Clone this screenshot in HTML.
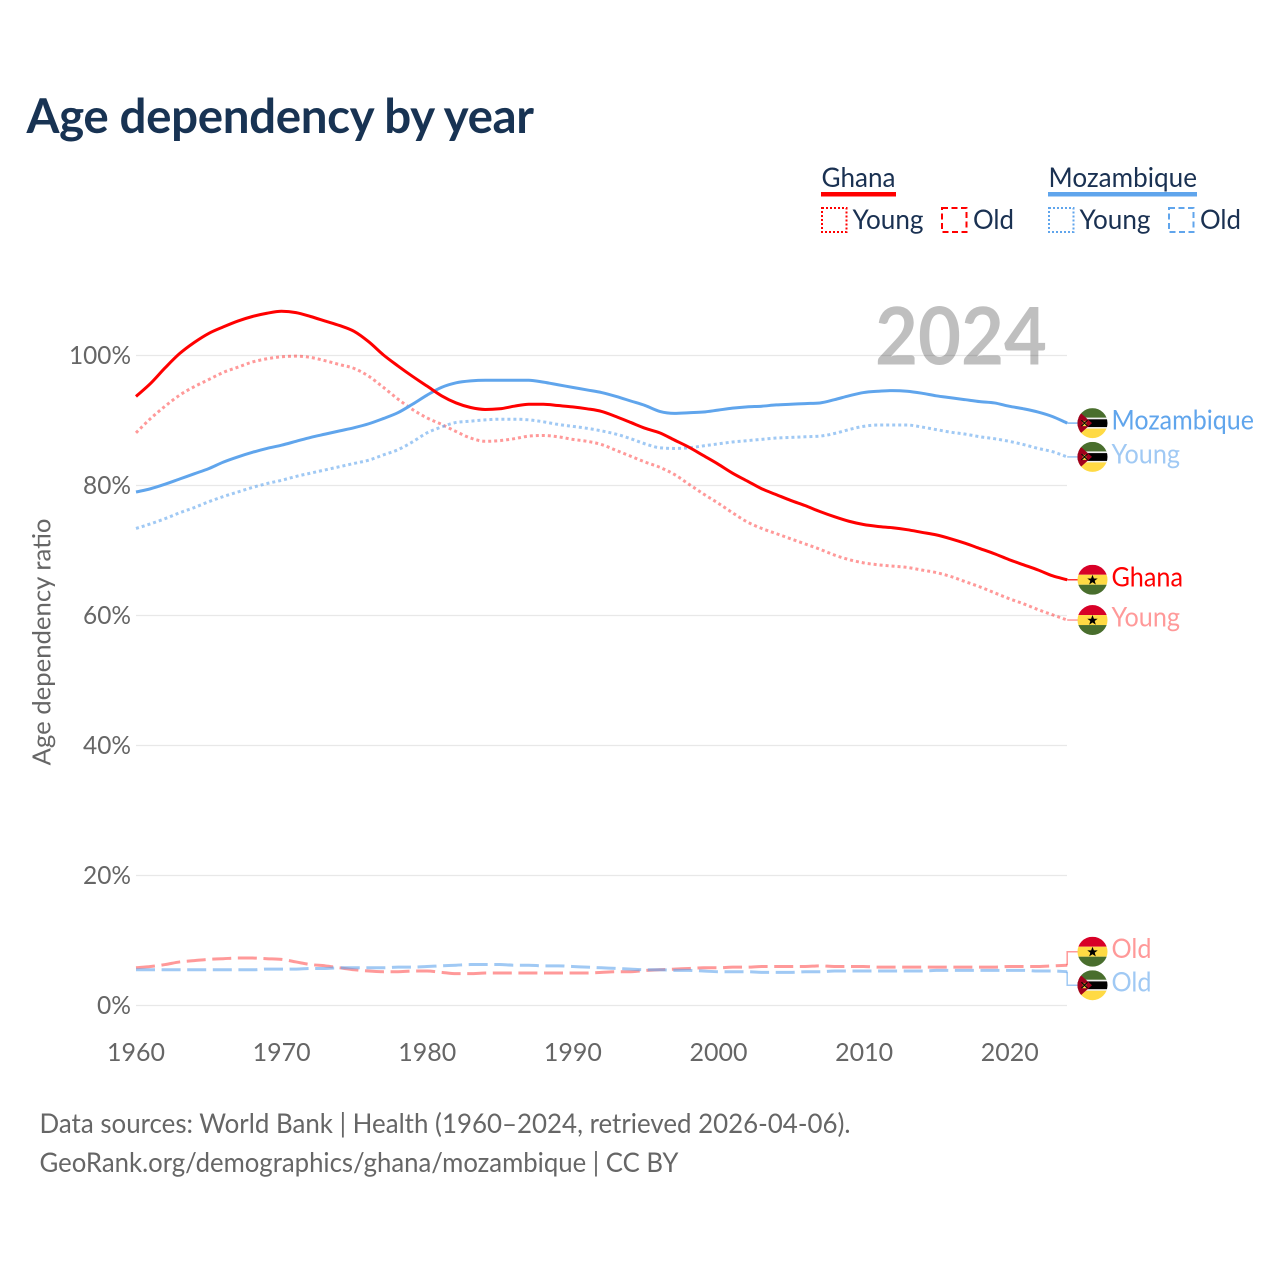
<!DOCTYPE html>
<html lang="en">
<head>
<meta charset="utf-8">
<title>Age dependency by year</title>
<style>
html,body{margin:0;padding:0;background:#fff;}
svg{display:block;}
text{font-family:"Lato","Carlito","Liberation Sans",sans-serif;}
</style>
</head>
<body>
<svg id="chart" xmlns="http://www.w3.org/2000/svg" width="1280" height="1280" viewBox="0 0 1280 1280">
  <defs>
    <clipPath id="flag-clip"><circle cx="0" cy="0" r="15"/></clipPath>
    <g id="flag-ghana" clip-path="url(#flag-clip)">
      <rect x="-15" y="-15" width="30" height="10" fill="#d80027"/>
      <rect x="-15" y="-5" width="30" height="10" fill="#ffda44"/>
      <rect x="-15" y="5" width="30" height="10" fill="#496e2d"/>
      <polygon points="0,-5 1.4,-1.3 5.2,-1.3 2.2,1 3.3,4.7 0,2.5 -3.3,4.7 -2.2,1 -5.2,-1.3 -1.4,-1.3" fill="#000"/>
    </g>
    <g id="flag-mozambique" clip-path="url(#flag-clip)">
      <rect x="-15" y="-15" width="30" height="10" fill="#496e2d"/>
      <rect x="-15" y="-5.5" width="30" height="2" fill="#f0f0f0"/>
      <rect x="-15" y="-3.8" width="30" height="8" fill="#000"/>
      <rect x="-15" y="4" width="30" height="2" fill="#f0f0f0"/>
      <rect x="-15" y="5.5" width="30" height="10" fill="#ffda44"/>
      <polygon points="-15,-13 -0.5,0 -15,13" fill="#a2001d"/>
      <polygon points="-11,-3.5 -8,-1.5 -5,-3.5 -6.5,0 -5,3 -11,3 -9.5,0" fill="#ffda44"/>
      <path d="M-11,-3 L-5,3 M-5,-3 L-11,3" stroke="#000" stroke-width="1.1"/>
    </g>
  </defs>

  <rect x="0" y="0" width="1280" height="1280" fill="#fff"/>

  <text x="26.5" y="133" font-size="47.5" font-weight="700" fill="#183353" textLength="507.5" lengthAdjust="spacing">Age dependency by year</text>

  <g font-size="27" fill="#1a3152">
    <text x="821.5" y="187" textLength="74" lengthAdjust="spacingAndGlyphs">Ghana</text>
    <rect x="821" y="192" width="75" height="4.5" fill="#ff0000"/>
    <rect x="822" y="208" width="24.5" height="24" fill="none" stroke="#ff0000" stroke-width="2" stroke-dasharray="2 2"/>
    <text x="852.5" y="229" textLength="71" lengthAdjust="spacingAndGlyphs">Young</text>
    <rect x="942" y="208" width="24.5" height="24" fill="none" stroke="#ff0000" stroke-width="2" stroke-dasharray="6 3.5"/>
    <text x="973" y="229" textLength="41" lengthAdjust="spacingAndGlyphs">Old</text>

    <text x="1048.5" y="187" textLength="148.5" lengthAdjust="spacingAndGlyphs">Mozambique</text>
    <rect x="1048" y="192" width="149" height="4.5" fill="#60a5ec"/>
    <rect x="1049" y="208" width="24.5" height="24" fill="none" stroke="#60a5ec" stroke-width="2" stroke-dasharray="2 2"/>
    <text x="1079.5" y="229" textLength="71" lengthAdjust="spacingAndGlyphs">Young</text>
    <rect x="1169" y="208" width="24.5" height="24" fill="none" stroke="#60a5ec" stroke-width="2" stroke-dasharray="6 3.5"/>
    <text x="1200" y="229" textLength="41" lengthAdjust="spacingAndGlyphs">Old</text>
  </g>

  <g id="grid"></g>
  <text x="875" y="364.5" font-size="80" font-weight="700" fill="#000" fill-opacity="0.25" textLength="172" lengthAdjust="spacingAndGlyphs">2024</text>
  <g id="y-ticks"></g>
  <g id="x-ticks"></g>
  <text transform="translate(50.5,642) rotate(-90)" text-anchor="middle" font-size="25.5" fill="#666" textLength="247" lengthAdjust="spacingAndGlyphs">Age dependency ratio</text>
  <g id="series"></g>
  <g id="end-labels"></g>

  <g font-size="27" fill="#666">
    <text x="39.5" y="1133" textLength="811" lengthAdjust="spacingAndGlyphs">Data sources: World Bank | Health (1960–2024, retrieved 2026-04-06).</text>
    <text x="39.5" y="1172" textLength="639" lengthAdjust="spacingAndGlyphs">GeoRank.org/demographics/ghana/mozambique | CC BY</text>
  </g>
</svg>

<script>
const startYear = 1960;
const yearTicks = [1960, 1970, 1980, 1990, 2000, 2010, 2020];
const valueTicks = [0, 20, 40, 60, 80, 100];

const ghanaTotal = [
  93.7,95.7,98.1,100.3,102,103.4,104.4,105.3,106,106.5,
  106.8,106.6,106,105.3,104.6,103.7,102.1,100.1,98.4,96.8,
  95.3,93.8,92.7,92,91.7,91.8,92.2,92.5,92.5,92.3,
  92.1,91.8,91.4,90.6,89.7,88.8,88.1,87,85.9,84.6,
  83.3,81.9,80.7,79.5,78.6,77.7,76.9,76,75.2,74.5,
  74,73.7,73.5,73.2,72.8,72.4,71.8,71.1,70.3,69.5,
  68.6,67.8,67,66.1,65.5];
const ghanaYoung = [
  88.1,90.3,92.2,93.9,95.2,96.3,97.4,98.2,99,99.5,
  99.8,99.9,99.7,99.2,98.6,98,96.8,95.1,93.3,91.7,
  90.4,89.4,88.3,87.3,86.8,86.9,87.2,87.6,87.7,87.5,
  87.1,86.8,86.3,85.4,84.5,83.6,82.8,81.7,80.2,78.7,
  77.3,75.8,74.4,73.4,72.6,71.8,71,70.2,69.3,68.6,
  68.1,67.8,67.6,67.4,67,66.6,66,65.2,64.4,63.5,
  62.6,61.8,60.9,60.1,59.3];
const ghanaOld = [
  5.8,6.0,6.3,6.7,6.9,7.1,7.2,7.3,7.3,7.2,
  7.1,6.7,6.3,6.1,5.8,5.5,5.3,5.2,5.2,5.3,
  5.3,5.1,4.9,4.9,5.0,5.0,5.0,5.0,5.0,5.0,
  5.0,5.0,5.1,5.2,5.2,5.4,5.5,5.6,5.7,5.8,
  5.8,5.9,5.9,6.0,6.0,6.0,6.0,6.1,6.0,6.0,
  6.0,5.9,5.9,5.9,5.9,5.9,5.9,5.9,5.9,5.9,
  6.0,6.0,6.0,6.1,6.2];
const mozambiqueTotal = [
  79,79.5,80.2,81,81.8,82.6,83.6,84.4,85.1,85.7,
  86.2,86.8,87.4,87.9,88.4,88.9,89.5,90.3,91.2,92.5,
  93.9,95.1,95.8,96.1,96.2,96.2,96.2,96.2,95.9,95.5,
  95.1,94.7,94.3,93.7,93,92.3,91.4,91.1,91.2,91.3,
  91.6,91.9,92.1,92.2,92.4,92.5,92.6,92.7,93.2,93.8,
  94.3,94.5,94.6,94.5,94.2,93.8,93.5,93.2,92.9,92.7,
  92.2,91.8,91.3,90.6,89.6];
const mozambiqueYoung = [
  73.4,74.1,74.9,75.8,76.6,77.5,78.3,79,79.7,80.3,
  80.8,81.4,81.9,82.4,82.9,83.4,83.9,84.7,85.5,86.7,
  88.1,89,89.7,89.9,90.1,90.2,90.2,90.1,89.8,89.4,
  89.1,88.8,88.4,87.9,87.2,86.4,85.8,85.7,85.8,86.1,
  86.4,86.7,86.9,87.1,87.3,87.4,87.5,87.6,88,88.6,
  89.1,89.3,89.3,89.3,89,88.6,88.2,87.9,87.5,87.2,
  86.8,86.3,85.7,85.2,84.4];
const mozambiqueOld = [
  5.5,5.5,5.5,5.5,5.5,5.5,5.5,5.5,5.5,5.6,
  5.6,5.6,5.7,5.7,5.8,5.8,5.8,5.8,5.9,5.9,
  6.0,6.1,6.2,6.3,6.3,6.3,6.2,6.2,6.1,6.1,
  6.0,5.9,5.8,5.7,5.6,5.5,5.5,5.4,5.4,5.3,
  5.2,5.2,5.2,5.1,5.1,5.1,5.2,5.2,5.3,5.3,
  5.3,5.3,5.3,5.3,5.3,5.4,5.4,5.4,5.4,5.4,
  5.4,5.4,5.3,5.3,5.2];

const SVG_NS = 'http://www.w3.org/2000/svg';
const GRID_COLOR = '#e8e8e8';
const TEXT_COLOR = '#666';
const RED = '#ff0000';
const BLUE = '#60a5ec';
const DOTTED = '3 3';
const DASHED = '19 6.6';
const LIGHT = 0.4;

function xScale(year) { return 136 + (year - 1960) * 14.55; }
function yScale(value) { return 1005.5 - value * 6.5; }

function make(tag, attrs, parent) {
  const el = document.createElementNS(SVG_NS, tag);
  for (const key in attrs) el.setAttribute(key, attrs[key]);
  parent.appendChild(el);
  return el;
}

/* Monotone cubic interpolation in x (same shape as d3.curveMonotoneX). */
function monotonePath(px, py) {
  const n = px.length;
  const slope = [];
  for (let i = 0; i < n - 1; i++) slope.push((py[i + 1] - py[i]) / (px[i + 1] - px[i]));
  const tan = [slope[0]];
  for (let i = 1; i < n - 1; i++) {
    const s0 = slope[i - 1], s1 = slope[i];
    if (s0 * s1 <= 0) { tan.push(0); continue; }
    const h0 = px[i] - px[i - 1], h1 = px[i + 1] - px[i];
    const p = (s0 * h1 + s1 * h0) / (h0 + h1);
    const sign = s0 < 0 ? -1 : 1;
    tan.push(sign * Math.min(Math.abs(s0), Math.abs(s1), 0.5 * Math.abs(p)) * 2);
  }
  tan.push(slope[n - 2]);
  let d = 'M' + px[0].toFixed(2) + ',' + py[0].toFixed(2);
  for (let i = 0; i < n - 1; i++) {
    const h = (px[i + 1] - px[i]) / 3;
    d += ' C' + (px[i] + h).toFixed(2) + ',' + (py[i] + tan[i] * h).toFixed(2) +
         ' ' + (px[i + 1] - h).toFixed(2) + ',' + (py[i + 1] - tan[i + 1] * h).toFixed(2) +
         ' ' + px[i + 1].toFixed(2) + ',' + py[i + 1].toFixed(2);
  }
  return d;
}

const gridLayer = document.getElementById('grid');
const yTickLayer = document.getElementById('y-ticks');
valueTicks.forEach(function (v) {
  const line = make('line', { x1: 136, x2: 1067, y1: yScale(v), y2: yScale(v), stroke: GRID_COLOR, 'stroke-width': 1.3 }, gridLayer);
  
  
  const label = String(v) + '%';
  const t = make('text', { x: 131, y: yScale(v) + 8.5, 'text-anchor': 'end', 'font-size': 25.5, fill: TEXT_COLOR, textLength: 6 + label.length * 14, lengthAdjust: 'spacingAndGlyphs' }, yTickLayer);
  
  
  t.textContent = label;
});

const xTickLayer = document.getElementById('x-ticks');
yearTicks.forEach(function (yr) {
  const t = make('text', { x: 136 + (yr - 1960) * 14.5625, y: 1061, 'text-anchor': 'middle', 'font-size': 25.5, fill: TEXT_COLOR, textLength: 58, lengthAdjust: 'spacingAndGlyphs' }, xTickLayer);
  
  
  t.textContent = String(yr);
});

const seriesDefs = [
  { key: 'ghana-old', values: ghanaOld, color: RED, opacity: LIGHT, dash: DASHED, flag: 'flag-ghana', label: 'Old', labelWidth: 40 },
  { key: 'mozambique-old', values: mozambiqueOld, color: BLUE, opacity: 0.6, dash: DASHED, flag: 'flag-mozambique', label: 'Old', labelWidth: 40 },
  { key: 'ghana-young', values: ghanaYoung, color: RED, opacity: LIGHT, dash: DOTTED, flag: 'flag-ghana', label: 'Young', labelWidth: 68.5 },
  { key: 'mozambique-young', values: mozambiqueYoung, color: BLUE, opacity: 0.6, dash: DOTTED, flag: 'flag-mozambique', label: 'Young', labelWidth: 68.5 },
  { key: 'mozambique-total', values: mozambiqueTotal, color: BLUE, opacity: 1, dash: null, flag: 'flag-mozambique', label: 'Mozambique', labelWidth: 142.5 },
  { key: 'ghana-total', values: ghanaTotal, color: RED, opacity: 1, dash: null, flag: 'flag-ghana', label: 'Ghana', labelWidth: 71.5 }
];

/* Dodge end labels so they never overlap: closely spaced neighbours are pushed apart symmetrically. */
const MIN_GAP = 33.5;
const ordered = seriesDefs.slice().sort(function (a, b) {
  return a.values[a.values.length - 1] < b.values[b.values.length - 1] ? 1 : -1;
});
ordered.forEach(function (d) { d.endY = yScale(d.values[d.values.length - 1]); d.labelY = d.endY; });
for (let i = 0; i < ordered.length - 1; i++) {
  const a = ordered[i], b = ordered[i + 1];
  const gap = b.labelY - a.labelY;
  if (gap < MIN_GAP - 1) {
    const mid = (a.labelY + b.labelY) / 2;
    a.labelY = mid - MIN_GAP / 2;
    b.labelY = mid + MIN_GAP / 2;
  }
}

const seriesLayer = document.getElementById('series');
const labelLayer = document.getElementById('end-labels');
seriesDefs.forEach(function (d) {
  const px = d.values.map(function (v, i) { return xScale(startYear + i); });
  const py = d.values.map(function (v) { return yScale(v); });
  const lineAttrs = { d: monotonePath(px, py), fill: 'none', stroke: d.color, 'stroke-width': 3, 'stroke-opacity': d.opacity, 'stroke-linejoin': 'round' };
  if (d.dash) lineAttrs['stroke-dasharray'] = d.dash;
  const line = make('path', lineAttrs, seriesLayer);
  
  

  const endX = px[px.length - 1];
  const connector = make('path', {
    d: 'M' + endX + ',' + d.endY + ' L' + endX + ',' + d.labelY + ' L1078,' + d.labelY,
    fill: 'none', stroke: d.color, 'stroke-width': 1.5, 'stroke-opacity': d.opacity === 1 ? 0.8 : d.opacity
  }, labelLayer);
  
  

  const flag = make('use', { href: '#' + d.flag, transform: 'translate(1092.5,' + d.labelY + ')' }, labelLayer);
  
  

  const text = make('text', { x: 1111.5, y: d.labelY + 6.5, 'font-size': 27, fill: d.color, 'fill-opacity': d.opacity, textLength: d.labelWidth, lengthAdjust: 'spacingAndGlyphs' }, labelLayer);
  
  
  text.textContent = d.label;
});
</script>
</body>
</html>
